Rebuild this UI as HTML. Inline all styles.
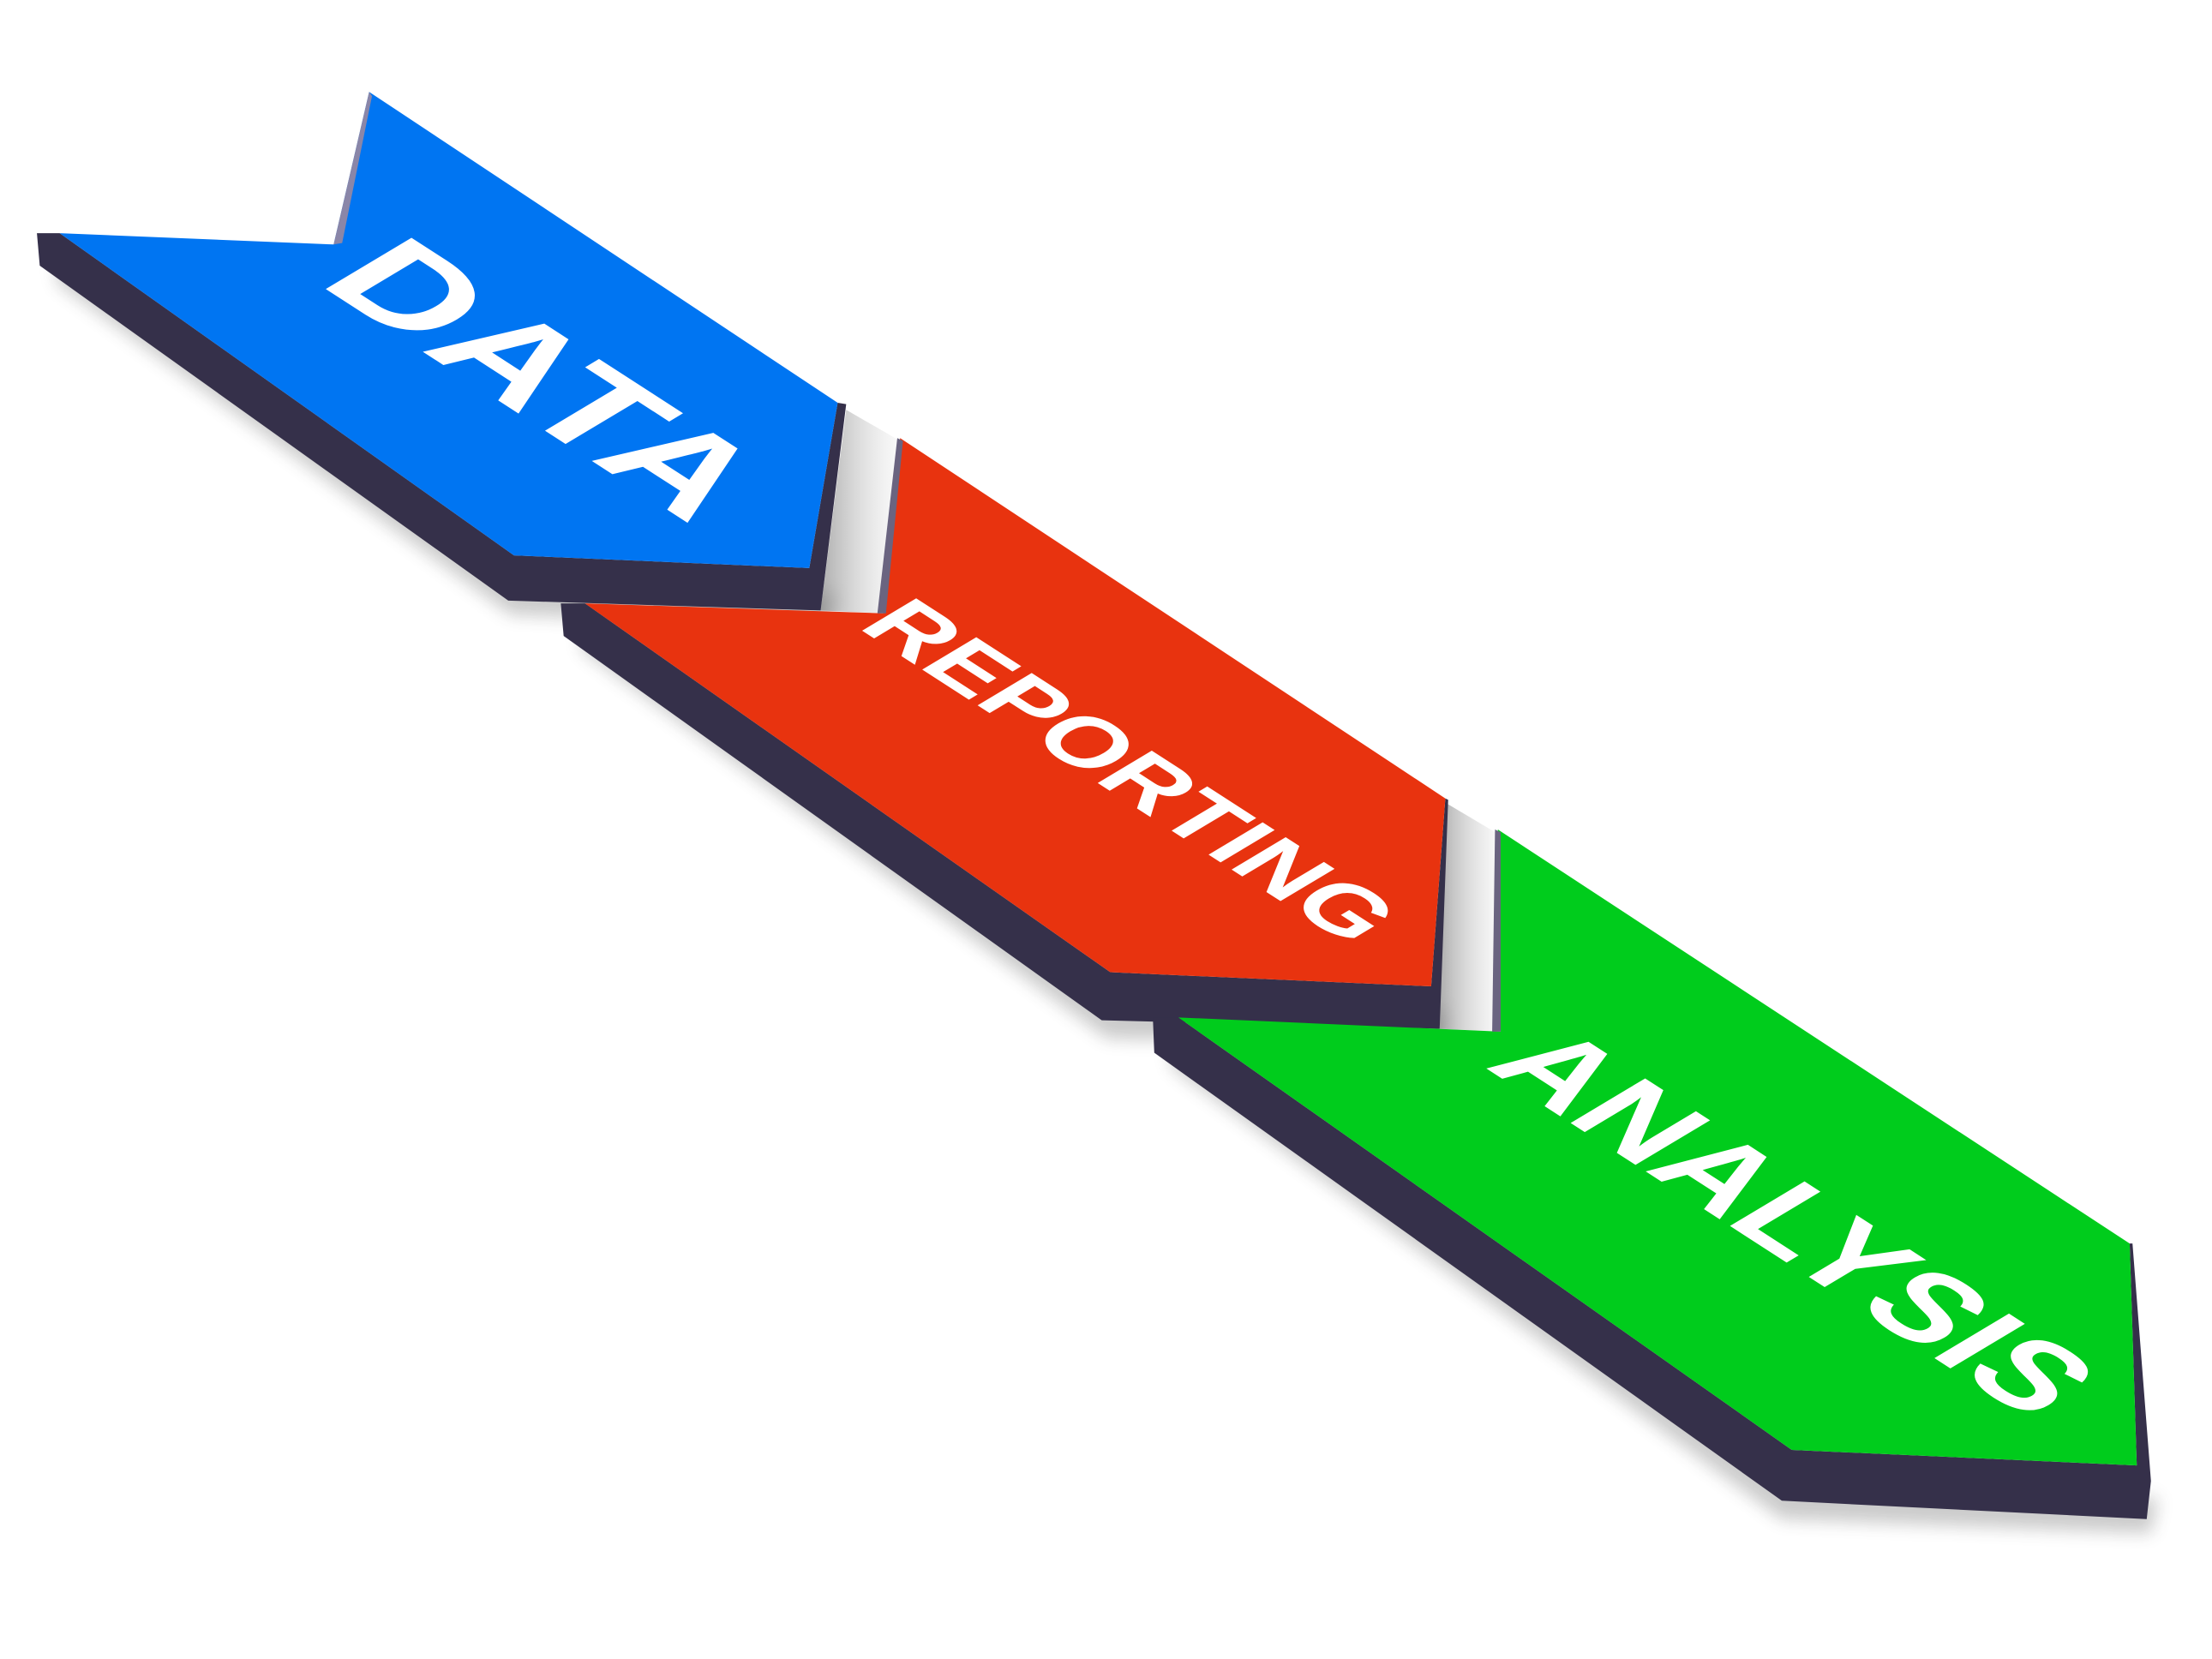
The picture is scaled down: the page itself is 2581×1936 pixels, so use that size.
<!DOCTYPE html>
<html><head><meta charset="utf-8"><style>html,body{margin:0;padding:0;background:#fff;overflow:hidden}svg{display:block}</style></head>
<body>
<svg width="2581" height="1936" viewBox="0 0 1558 1174" preserveAspectRatio="none" xmlns="http://www.w3.org/2000/svg">
<defs>
<filter id="sh" x="-10%" y="-10%" width="130%" height="130%"><feGaussianBlur stdDeviation="6"/></filter>
<linearGradient id="gap" x1="0" y1="0" x2="1" y2="0"><stop offset="0" stop-color="#777" stop-opacity="0.6"/><stop offset="1" stop-color="#ccc" stop-opacity="0.1"/></linearGradient>
</defs>
<g opacity="0.25" filter="url(#sh)">
<polygon points="40,200 360,435 580,445 590,420 360,410 40,180" fill="#333"/>
<polygon points="410,460 780,735 1015,740 1020,715 780,705 410,440" fill="#333"/>
<polygon points="825,755 1255,1075 1515,1085 1520,1060 1255,1050 825,735" fill="#333"/>
</g>
<polygon points="596,290 634,312 622,434 578,432" fill="url(#gap)"/>
<polygon points="1018,568 1055,590 1057,730 1014,728" fill="url(#gap)"/>
<!-- BLUE -->
<polygon points="26,165 42,165 362,393 570,402 590,285 596,286 578,432 358,425 28,188" fill="#35304a"/>
<polygon points="42,165 235,173 260,65 590,285 570,402 362,393" fill="#0075f2"/>
<polygon points="235,173 260,65 262,68 241,172" fill="#8a86a8"/>
<!-- RED -->
<polygon points="395,427 412,427 782,688 1008,698 1018,565 1020,566 1014,728 776,722 397,450" fill="#35304a"/>
<polygon points="412,427 622,434 634,310 1018,565 1008,698 782,688" fill="#e8330f"/>
<polygon points="618,434 632,310 636,312 624,434" fill="#6a6480"/>
<!-- GREEN -->
<polygon points="812,720 830,720 1262,1026 1505,1037 1500,880 1502,880 1515,1048 1512,1075 1255,1062 813,745" fill="#35304a"/>
<polygon points="830,720 1057,730 1055,587 1500,880 1505,1037 1262,1026" fill="#00cc1c"/>
<polygon points="1051,730 1053,587 1057,589 1057,730" fill="#6a6480"/>
<g font-family="Liberation Sans, sans-serif" font-weight="bold" fill="#fff">
<text transform="translate(378,272) rotate(33) skewX(-26)" font-size="92" text-anchor="middle" dominant-baseline="middle" textLength="315" lengthAdjust="spacingAndGlyphs">DATA</text>
<text transform="translate(792,548) rotate(33) skewX(-26)" font-size="58" text-anchor="middle" dominant-baseline="middle" textLength="415" lengthAdjust="spacingAndGlyphs">REPORTING</text>
<text transform="translate(1258,868) rotate(33) skewX(-26)" font-size="80" text-anchor="middle" dominant-baseline="middle" textLength="460" lengthAdjust="spacingAndGlyphs">ANALYSIS</text>
</g>
</svg>
</body></html>
